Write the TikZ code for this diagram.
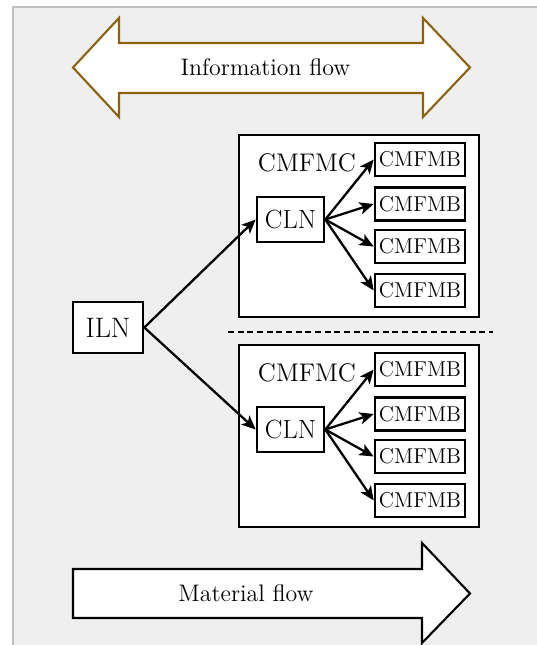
\documentclass[tikz,border=0pt]{standalone}
\usetikzlibrary{arrows.meta}
\definecolor{panelgray}{RGB}{239,239,239}
\definecolor{panelline}{RGB}{192,192,192}
\definecolor{infobrown}{RGB}{139,98,16}
\begin{document}
\begin{tikzpicture}[every node/.style={font=\fontsize{12.2}{14}\selectfont},
  box/.style={draw,line width=1.5pt,fill=white,inner sep=0pt},
  mbox/.style={box,minimum width=1.8cm,minimum height=0.66cm},
  flow/.style={line width=1.3pt,-{Stealth[length=8pt,width=7pt,inset=2pt]}}]
\useasboundingbox (0,0) rectangle (10.74,12.9);
\fill[panelgray] (0.26,0) rectangle (10.74,12.76);
\draw[panelline,line width=0.8pt] (0.26,0) -- (0.26,12.76) -- (10.74,12.76);
% information flow
\draw[infobrown,line width=1.2pt,fill=white] (1.46,11.55) -- (2.38,12.54) -- (2.38,12.04) -- (8.46,12.04) -- (8.46,12.54) -- (9.4,11.55) -- (8.46,10.56) -- (8.46,11.04) -- (2.38,11.04) -- (2.38,10.56) -- cycle;
\node[font=\fontsize{13.6}{16}\selectfont] (info) at (5.31,11.55) {Information flow};
% material flow
\draw[line width=1.2pt,fill=white] (1.46,1.52) -- (8.44,1.52) -- (8.44,2.04) -- (9.4,1.03) -- (8.44,0.04) -- (8.44,0.54) -- (1.46,0.54) -- cycle;
\node[font=\fontsize{13.6}{16}\selectfont] (mat) at (4.92,1.03) {Material flow};
% cells
\node[box,minimum width=4.8cm,minimum height=3.64cm] (cellA) at (7.18,8.38) {};
\node[box,minimum width=4.8cm,minimum height=3.64cm] (cellB) at (7.18,4.18) {};
\node[font=\fontsize{14.5}{16}\selectfont] (cmfmcA) at (6.14,9.64) {CMFMC};
\node[font=\fontsize{14.5}{16}\selectfont] (cmfmcB) at (6.14,5.44) {CMFMC};
\node[box,minimum width=1.34cm,minimum height=0.9cm,font=\fontsize{15}{17}\selectfont] (clnA) at (5.81,8.51) {CLN};
\node[box,minimum width=1.34cm,minimum height=0.9cm,font=\fontsize{15}{17}\selectfont] (clnB) at (5.81,4.31) {CLN};
\foreach \i/\y in {1/9.71,2/8.82,3/7.97,4/7.09} {
  \node[mbox] (mbA\i) at (8.4,\y) {CMFMB};
  \node[mbox] (mbB\i) at (8.4,\y-4.2) {CMFMB};
  \draw[flow] (clnA.east) -- (mbA\i.west);
  \draw[flow] (clnB.east) -- (mbB\i.west);
}
\draw[line width=0.6pt,dash pattern=on 3.5pt off 2pt] (4.56,6.26) -- (9.86,6.26);
% line node
\node[box,minimum width=1.4cm,minimum height=1.02cm,font=\fontsize{16}{18}\selectfont] (iln) at (2.16,6.35) {ILN};
\draw[flow] (iln.east) -- (clnA.west);
\draw[flow] (iln.east) -- (clnB.west);
\end{tikzpicture}
\end{document}
